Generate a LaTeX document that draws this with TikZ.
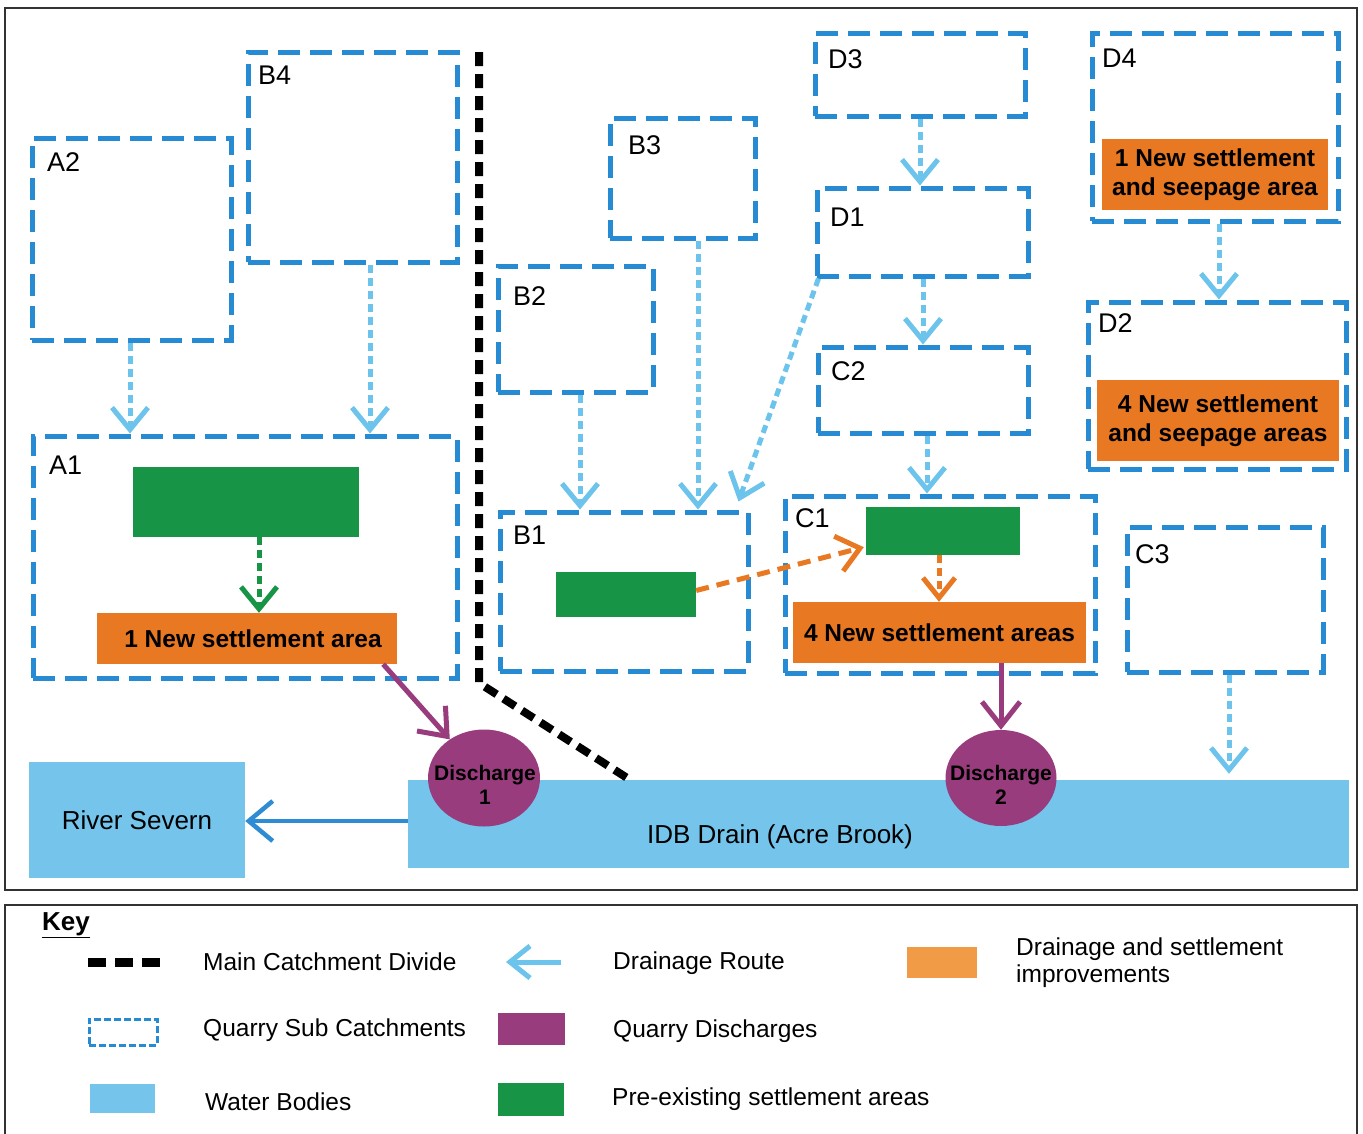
\documentclass[tikz,border=0pt]{standalone}
\usepackage{fontspec}
\setmainfont{Liberation Sans}
\usetikzlibrary{arrows.meta,shapes.geometric,fit,calc}
\definecolor{boxblue}{RGB}{38,139,210}
\definecolor{routeblue}{RGB}{108,196,236}
\definecolor{waterblue}{RGB}{116,196,235}
\definecolor{riverarrow}{RGB}{46,140,212}
\definecolor{setgreen}{RGB}{24,148,70}
\definecolor{neworange}{RGB}{232,120,34}
\definecolor{keyorange}{RGB}{242,155,70}
\definecolor{dispurple}{RGB}{152,60,125}
\definecolor{framegray}{RGB}{50,50,50}
\newcommand\fsLab{\fontsize{27}{30}\selectfont}
\newcommand\fsOr{\fontsize{24.5}{28.5}\selectfont\bfseries}
\newcommand\fsWat{\fontsize{26}{30}\selectfont}
\newcommand\fsKey{\fontsize{24.5}{27}\selectfont}
\newcommand\fsDis{\fontsize{21}{24}\selectfont\bfseries}
\begin{document}
\begin{tikzpicture}[x=1pt,y=-1pt,
  subbox/.style={draw=boxblue, line width=5pt, dash pattern=on 22pt off 10pt, inner sep=0pt},
  lbl/.style={font=\fsLab, inner sep=0pt, anchor=base west},
  greenbox/.style={fill=setgreen, inner sep=0pt},
  orangebox/.style={fill=neworange, inner sep=0pt, font=\fsOr, align=center},
  waterbox/.style={fill=waterblue, inner sep=0pt, font=\fsWat},
  discharge/.style={ellipse, fill=dispurple, inner sep=0pt},
  distext/.style={font=\fsDis, align=center, inner sep=0pt},
  droute/.style={draw=routeblue, line width=5pt, dash pattern=on 8pt off 5pt, -{Straight Barb[length=22pt,width=36pt]}},
  greenroute/.style={draw=setgreen, line width=5pt, dash pattern=on 8pt off 5pt, -{Straight Barb[length=22pt,width=36pt]}},
  orangeroute/.style={draw=neworange, line width=5pt, dash pattern=on 13pt off 8pt, -{Straight Barb[length=22pt,width=36pt]}},
  orangeshort/.style={draw=neworange, line width=5pt, dash pattern=on 8pt off 5pt, -{Straight Barb[length=20pt,width=32pt]}},
  purpleroute/.style={draw=dispurple, line width=5pt, -{Straight Barb[length=24pt,width=38pt]}},
  riverroute/.style={draw=riverarrow, line width=4.5pt, -{Straight Barb[length=24pt,width=40pt]}},
  divide/.style={draw=black, line width=8pt, dash pattern=on 14pt off 8pt},
  frame/.style={draw=framegray, line width=2pt},
  keytext/.style={font=\fsKey, inner sep=0pt, anchor=west, align=left}
]
\useasboundingbox (0,0) rectangle (1363,1133);
\clip (0,0) rectangle (1363,1133);
\fill[white] (0,0) rectangle (1363,1133);

% frames
\draw[frame] (5,8) rectangle (1357,890);
\draw[frame] (5,905) rectangle (1357,1150);

% water bodies
\node[waterbox, minimum width=216pt, minimum height=116pt] (river) at (137,820) {\raisebox{-4pt}{River Severn}};
\node[waterbox, fit={(408,780) (1349,868)}] (drainbox) {};
\node[font=\fsWat, inner sep=0pt] (draintext) at (780,837) {IDB Drain (Acre Brook)};

% main catchment divide
\draw[divide] (479,52) -- (479,683) -- (drainbox.north -| 630,0);

% sub catchments
\node[subbox, fit={(32,138) (231,340)}] (A2) {};
\node[subbox, fit={(248,52) (457,262)}] (B4) {};
\node[subbox, fit={(33,436) (457,678)}] (A1) {};
\node[subbox, fit={(610,118) (755,238)}] (B3) {};
\node[subbox, fit={(498,266) (653,392)}] (B2) {};
\node[subbox, fit={(500,512) (748,671)}] (B1) {};
\node[subbox, fit={(815,33) (1025,116)}] (D3) {};
\node[subbox, fit={(817,188) (1028,276)}] (D1) {};
\node[subbox, fit={(818,347) (1028,433)}] (C2) {};
\node[subbox, fit={(785,496) (1095,673)}] (C1) {};
\node[subbox, fit={(1092,33) (1338,221)}] (D4) {};
\node[subbox, fit={(1088,302) (1346,469)}] (D2) {};
\node[subbox, fit={(1127,527) (1323,672)}] (C3) {};

% labels
\node[lbl] (A2l) at (47,171) {A2};
\node[lbl] (B4l) at (258,84) {B4};
\node[lbl] (A1l) at (49,474) {A1};
\node[lbl] (B3l) at (628,154) {B3};
\node[lbl] (B2l) at (513,305) {B2};
\node[lbl] (B1l) at (513,544) {B1};
\node[lbl] (D3l) at (828,68) {D3};
\node[lbl] (D1l) at (830,226) {D1};
\node[lbl] (C2l) at (831,380) {C2};
\node[lbl] (C1l) at (795,527) {C1};
\node[lbl] (D4l) at (1102,67) {D4};
\node[lbl] (D2l) at (1098,332) {D2};
\node[lbl] (C3l) at (1135,563) {C3};

% settlement areas
\node[greenbox, fit={(133,467) (359,537)}] (A1g) {};
\node[orangebox, minimum width=300pt, minimum height=51pt] (A1o) at (247,638.5) {\hspace*{12pt}1 New settlement area};
\node[greenbox, fit={(556,572) (696,617)}] (B1g) {};
\node[greenbox, fit={(866,507) (1020,555)}] (C1g) {};
\node[orangebox, minimum width=293pt, minimum height=61pt] (C1o) at (939.5,632.5) {4 New settlement areas};
\node[orangebox, minimum width=226pt, minimum height=71pt] (D4o) at (1215,174.5) {1 New settlement\\and seepage area};
\node[orangebox, minimum width=242pt, minimum height=81pt] (D2o) at (1218,420.5) {4 New settlement\\and seepage areas};

% discharges
\node[discharge, minimum width=112pt, minimum height=97pt] (dis1) at (484,778) {};
\node[distext] (dis1t) at (485,785) {Discharge\\1};
\node[discharge, minimum width=111pt, minimum height=96pt] (dis2) at (1001,778) {};
\node[distext] (dis2t) at (1001,785) {Discharge\\2};

% drainage routes
\draw[droute] (A2.south -| 130,0) -- (A1.north -| 130,0);
\draw[droute] (B4.south -| 370,0) -- (A1.north -| 370,0);
\draw[droute] (B2.south -| 580,0) -- (B1.north -| 580,0);
\draw[droute] (B3.south -| 698,0) -- (B1.north -| 698,0);
\draw[droute] ($(D1.south west)+(4,0)$) -- ($(B1.north east)+(-12,-8)$);
\draw[droute] (D3.south -| 920,0) -- (D1.north -| 920,0);
\draw[droute] (D1.south -| 923,0) -- (C2.north -| 923,0);
\draw[droute] (C2.south -| 927,0) -- (C1.north -| 927,0);
\draw[droute] (D4.south -| 1219,0) -- (D2.north -| 1219,0);
\draw[droute] (C3.south -| 1229,0) -- ($(drainbox.north -| 1229,0)+(0,-6)$);

\draw[greenroute] (A1g.south -| 259,0) -- (A1o.north -| 259,0);
\draw[orangeroute] ($(B1g.east)+(0,-4)$) -- ($(C1g.south west)+(-2,-8)$);
\draw[orangeshort] (C1g.south -| 939,0) -- (C1o.north -| 939,0);

\draw[purpleroute] ($(A1o.south east)+(-14,0)$) -- (dis1);
\draw[purpleroute] (C1o.south -| dis2.north) -- (dis2.north);

\draw[riverroute] (drainbox.west |- 0,821) -- (river.east |- 0,821);

% key
\node[font=\fontsize{26}{30}\selectfont\bfseries, inner sep=0pt, anchor=base west] (keytitle) at (42,930) {\underline{Key}};

\coordinate (kdivA) at (88,962);
\coordinate (kdivB) at (160,962);
\draw[divide, line width=9pt, dash pattern=on 18pt off 9pt] (kdivA) -- (kdivB);
\node[keytext] (kdiv) at (203,962) {Main Catchment Divide};

\node[draw=boxblue, line width=3pt, dash pattern=on 7pt off 3pt, inner sep=0pt, fit={(89,1019) (157,1045)}] (ksub) {};
\node[keytext] (ksubt) at (203,1030) {Quarry Sub Catchments};

\node[fill=waterblue, inner sep=0pt, fit={(90,1084) (155,1113)}] (kwat) {};
\node[keytext] (kwatt) at (205,1102) {Water Bodies};

\coordinate (krA) at (561,962);
\coordinate (krB) at (506,962);
\draw[draw=routeblue, line width=5pt, -{Straight Barb[length=20pt,width=32pt]}] (krA) -- (krB);
\node[keytext] (kroute) at (613,963) {Drainage Route};

\node[fill=dispurple, inner sep=0pt, fit={(498,1013) (565,1045)}] (kdis) {};
\node[keytext] (kdist) at (613,1031) {Quarry Discharges};

\node[fill=setgreen, inner sep=0pt, fit={(498,1083) (564,1116)}] (kgreen) {};
\node[keytext] (kgreent) at (612,1099) {Pre-existing settlement areas};

\node[fill=keyorange, inner sep=0pt, fit={(907,947) (977,978)}] (korange) {};
\node[keytext] (korangat) at (1016,963) {Drainage and settlement\\improvements};
\end{tikzpicture}
\end{document}
